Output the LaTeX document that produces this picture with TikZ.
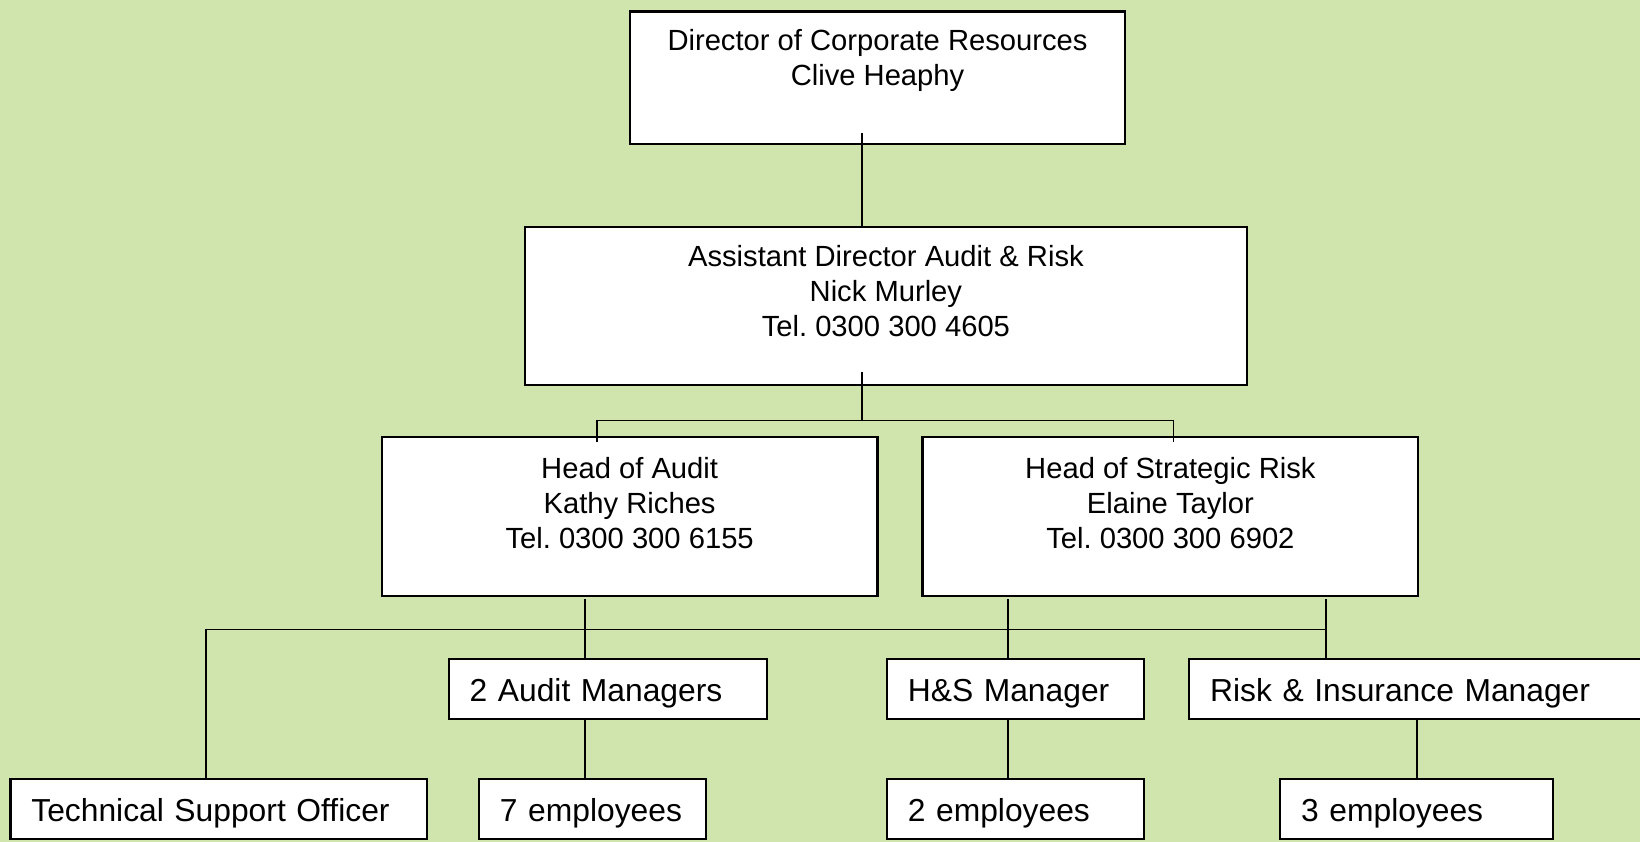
\documentclass[tikz,border=0pt]{standalone}
\usepackage{fontspec}
\setmainfont{Liberation Sans}
\frenchspacing
\definecolor{bggreen}{RGB}{208,228,174}
\tikzset{
  every node/.style={font=\fontsize{13.95pt}{16.75pt}\selectfont},
  orgbox/.style={draw=black, fill=white, line width=1pt, inner sep=0pt},
  tallbox/.style={orgbox, minimum width=#1},
  onebox/.style={orgbox, align=left, inner xsep=10pt, minimum height=28.5pt,
    text width=#1, text height=12.5pt, text depth=0.2pt,
    font=\fontsize{15.2pt}{18pt}\selectfont},
  lbl/.style={align=center, inner sep=0pt, anchor=north},
  conn/.style={line width=0.8pt}
}
\begin{document}
\begin{tikzpicture}[x=0.5pt, y=-0.5pt]
  \useasboundingbox (0,0) rectangle (1568,805);
  \clip (0,0) rectangle (1568,805);
  \fill[bggreen] (0,0) rectangle (1568,805);

  % level 1 and 2
  \node[tallbox=237pt, minimum height=63.5pt] (dir) at (839,74.5) {};
  \node[lbl] (dirT) at ([shift={(0,17.5)}]dir.north) {Director of Corporate Resources\\Clive Heaphy};

  \node[tallbox=345pt, minimum height=75.5pt] (ad) at (847,292.5) {};
  \node[lbl] (adT) at ([shift={(0,18)}]ad.north) {Assistant Director Audit \& Risk\\Nick Murley\\Tel. 0300 300 4605};

  % heads
  \node[tallbox=237pt, minimum height=76pt] (hoa) at (602,494) {};
  \node[lbl] (hoaT) at ([shift={(0,19.5)}]hoa.north) {Head of Audit\\Kathy Riches\\Tel. 0300 300 6155};

  \node[tallbox=237pt, minimum height=76pt] (hsr) at (1119,494) {};
  \node[lbl] (hsrT) at ([shift={(0,19.5)}]hsr.north) {Head of Strategic Risk\\Elaine Taylor\\Tel. 0300 300 6902};

  % managers
  \node[onebox=132pt] (am) at (581,658.5) {2 Audit Managers};
  \node[onebox=103pt] (hs) at (971,658.5) {H\&S Manager};
  \node[onebox=221.5pt] (rim) at (1378.5,658.5) {Risk \& Insurance Manager};

  % staff
  \node[onebox=179pt] (tso) at (209,773.5) {Technical Support Officer};
  \node[onebox=88.5pt] (emp7) at (566.5,773.5) {7 employees};
  \node[onebox=103pt] (emp2) at (971,773.5) {2 employees};
  \node[onebox=110.5pt] (emp3) at (1354.5,773.5) {3 employees};

  % connectors: director to assistant director
  \coordinate (c1) at ([shift={(-15,-12)}]dir.south);
  \draw[conn] (c1) -- (c1 |- ad.north);

  % assistant director to heads
  \coordinate (c2) at ([shift={(-23,-13)}]ad.south);
  \coordinate (b1) at ([shift={(-23,33)}]ad.south);
  \coordinate (hoaIn) at ([shift={(-31,6)}]hoa.north);
  \coordinate (hsrIn) at ([shift={(3,6)}]hsr.north);
  \draw[conn] (c2) -- (b1);
  \draw[conn] (hoaIn) |- (b1) -| (hsrIn);

  % heads to managers and technical support
  \coordinate (a1) at ([shift={(-43,2)}]hoa.south);
  \coordinate (h1) at ([shift={(-155,2)}]hsr.south);
  \coordinate (h2) at ([shift={(149,2)}]hsr.south);
  \coordinate (busR) at ([shift={(149,31)}]hsr.south);
  \coordinate (tsoUp) at ([xshift=-6pt]tso.north);
  \draw[conn] (tsoUp) |- (busR);
  \draw[conn] (a1) -- (a1 |- am.north);
  \draw[conn] (h1) -- (h1 |- hs.north);
  \draw[conn] (h2) -- (h2 |- rim.north);

  % managers to staff
  \coordinate (a2) at ([xshift=-11pt]am.south);
  \coordinate (h3) at ([xshift=-3.5pt]hs.south);
  \draw[conn] (a2) -- (a2 |- emp7.north);
  \draw[conn] (h3) -- (h3 |- emp2.north);
  \draw[conn] (emp3.north |- rim.south) -- (emp3.north);
\end{tikzpicture}
\end{document}
